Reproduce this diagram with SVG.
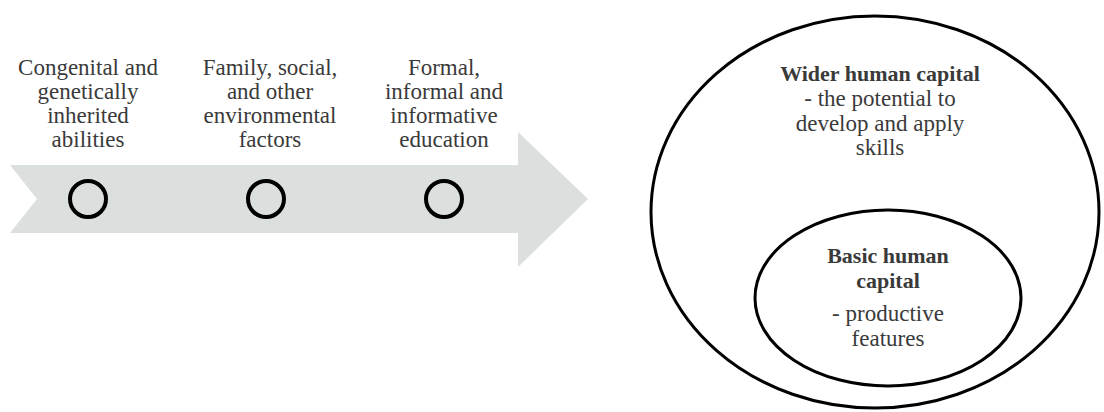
<svg xmlns="http://www.w3.org/2000/svg" width="1104" height="412" viewBox="0 0 1104 412">
<style>
.t{font-family:"Liberation Serif","Times New Roman",serif;font-size:23px;fill:#3a3a3a;text-anchor:middle}
.b{font-weight:bold;font-size:22px}
.ring{fill:none;stroke:#000;stroke-width:4}
.ell{fill:none;stroke:#000;stroke-width:3}
</style>
<rect width="1104" height="412" fill="#fff"/>
<g id="arrow">
<polygon points="10,165 518,165 518,132 588,199 518,267 518,233 10,233 37,199" fill="#dbdfde"/>
</g>
<g id="step1">
<text class="t" x="88" y="75">Congenital and</text>
<text class="t" x="88" y="99">genetically</text>
<text class="t" x="88" y="123">inherited</text>
<text class="t" x="88" y="147">abilities</text>
<circle class="ring" cx="88" cy="199" r="18"/>
</g>
<g id="step2">
<text class="t" x="270" y="75">Family, social,</text>
<text class="t" x="270" y="99">and other</text>
<text class="t" x="270" y="123">environmental</text>
<text class="t" x="270" y="147">factors</text>
<circle class="ring" cx="266" cy="199" r="18"/>
</g>
<g id="step3">
<text class="t" x="444" y="75">Formal,</text>
<text class="t" x="444" y="99">informal and</text>
<text class="t" x="444" y="123">informative</text>
<text class="t" x="444" y="147">education</text>
<circle class="ring" cx="444" cy="199" r="18"/>
</g>
<g id="wider">
<ellipse class="ell" cx="875" cy="212" rx="224" ry="196"/>
<text class="t b" x="880" y="81">Wider human capital</text>
<text class="t" x="880" y="106">- the potential to</text>
<text class="t" x="880" y="131">develop and apply</text>
<text class="t" x="880" y="155">skills</text>
</g>
<g id="basic">
<ellipse class="ell" cx="888" cy="298" rx="133" ry="88"/>
<text class="t b" x="888" y="263">Basic human</text>
<text class="t b" x="888" y="288">capital</text>
<text class="t" x="888" y="321">- productive</text>
<text class="t" x="888" y="346">features</text>
</g>
<g id="connectors"/>
</svg>
